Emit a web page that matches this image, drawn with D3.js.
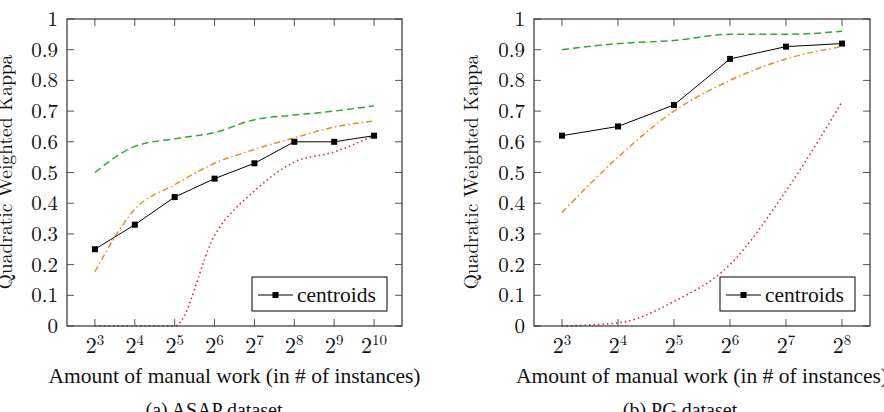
<!DOCTYPE html>
<html>
<head>
<meta charset="utf-8">
<script src="https://cdn.jsdelivr.net/npm/d3@7"></script>
<style>
  body { margin: 0; background: #fff; }
</style>
</head>
<body>
<div id="visualization"></div>
<script>
// exponents on the x axis (2^k instances)
const asapExp = [3, 4, 5, 6, 7, 8, 9, 10];
const pgExp = [3, 4, 5, 6, 7, 8];

// ASAP dataset
const asapCentroids = [0.25, 0.33, 0.42, 0.48, 0.53, 0.60, 0.60, 0.62];
const asapGreen = [0.50, 0.585, 0.61, 0.63, 0.672, 0.687, 0.70, 0.717];
const asapOrange = [0.177, 0.38, 0.46, 0.53, 0.575, 0.613, 0.648, 0.668];
const asapRed = [0, 0, 0, 0.295, 0.44, 0.534, 0.567, 0.62];

// PG dataset
const pgCentroids = [0.62, 0.65, 0.72, 0.87, 0.91, 0.92];
const pgGreen = [0.90, 0.92, 0.93, 0.95, 0.95, 0.96];
const pgOrange = [0.37, 0.55, 0.70, 0.80, 0.87, 0.91];
const pgRed = [0, 0.01, 0.08, 0.20, 0.44, 0.73];

const yTicks = [0, 0.1, 0.2, 0.3, 0.4, 0.5, 0.6, 0.7, 0.8, 0.9, 1];
const xLabel = "Amount of manual work (in # of instances)";
const yLabel = "Quadratic Weighted Kappa";
const captions = ["(a) ASAP dataset", "(b) PG dataset"];

const cm = "'Latin Modern Roman', 'Liberation Serif', serif";
const times = "'Liberation Serif', 'Tinos', serif";

const svg = d3.select("#visualization")
    .append("svg")
    .attr("width", 884)
    .attr("height", 412);

function drawPanel(opts) {
    const g = svg.append("g");
    const x = d3.scaleLinear().domain(opts.xDomain).range([opts.left, opts.right]);
    const y = d3.scaleLinear().domain([0, 1]).range([326, 19]);
    const tick = 7;

    // ticks, inside, on all four sides
    g.selectAll(".xt").data(opts.exps).enter().append("path")
        .attr("d", d => `M${x(d)},326v${-tick}M${x(d)},19v${tick}`)
        .attr("stroke", "#555").attr("stroke-width", 1);
    g.selectAll(".yt").data(yTicks).enter().append("path")
        .attr("d", d => `M${opts.left},${y(d)}h${tick}M${opts.right},${y(d)}h${-tick}`)
        .attr("stroke", "#555").attr("stroke-width", 1);

    const line = d3.line()
        .x((d, i) => x(opts.exps[i]))
        .y(d => y(d));
    const smooth = d3.line()
        .x((d, i) => x(opts.exps[i]))
        .y(d => y(d))
        .curve(d3.curveMonotoneX);

    g.append("path").datum(opts.green).attr("d", smooth)
        .attr("fill", "none").attr("stroke", "#27b02a").attr("stroke-width", 1.5)
        .attr("stroke-dasharray", "7,4");
    g.append("path").datum(opts.orange).attr("d", smooth)
        .attr("fill", "none").attr("stroke", "#ef8a1f").attr("stroke-width", 1.5)
        .attr("stroke-dasharray", "6,3,1.5,3");
    g.append("path").datum(opts.red).attr("d", smooth)
        .attr("fill", "none").attr("stroke", "#e0283a").attr("stroke-width", 1.6)
        .attr("stroke-dasharray", "1.5,3");
    g.append("path").datum(opts.centroids).attr("d", line)
        .attr("fill", "none").attr("stroke", "#000").attr("stroke-width", 1);
    g.selectAll(".mk").data(opts.centroids).enter().append("rect")
        .attr("x", (d, i) => x(opts.exps[i]) - 3)
        .attr("y", d => y(d) - 3)
        .attr("width", 6).attr("height", 6)
        .attr("fill", "#000");

    // frame
    g.append("rect")
        .attr("x", opts.left).attr("y", 19)
        .attr("width", opts.right - opts.left).attr("height", 307)
        .attr("fill", "none").attr("stroke", "#333").attr("stroke-width", 1.2);

    // tick labels
    g.selectAll(".yl").data(yTicks).enter().append("text")
        .attr("x", opts.left - 9).attr("y", d => y(d) + 7)
        .attr("text-anchor", "end").attr("font-size", 21).attr("fill", "#111")
        .attr("font-family", cm)
        .text(d => d3.format("~g")(d));
    const xl = g.selectAll(".xl").data(opts.exps).enter().append("text")
        .attr("x", d => x(d)).attr("y", 353)
        .attr("text-anchor", "middle").attr("font-size", 22).attr("fill", "#111")
        .attr("font-family", cm);
    xl.append("tspan").text("2");
    xl.append("tspan").attr("font-size", 15).attr("dy", -8).text(d => d);

    // axis titles
    g.append("text")
        .attr("x", (opts.left + opts.right) / 2).attr("y", 383)
        .attr("text-anchor", "middle").attr("font-size", 21.5).attr("fill", "#111")
        .attr("font-family", times)
        .text(xLabel);
    g.append("text")
        .attr("transform", `translate(${opts.yLabelX},172) rotate(-90)`)
        .attr("text-anchor", "middle").attr("font-size", 19.5).attr("fill", "#111")
        .attr("font-family", cm)
        .text(yLabel);
    g.append("text")
        .attr("x", opts.captionX).attr("y", 417)
        .attr("text-anchor", "middle").attr("font-size", 20).attr("fill", "#111")
        .attr("font-family", times)
        .text(opts.caption);

    // legend
    const lg = g.append("g").attr("transform", `translate(${opts.right - 150},277)`);
    lg.append("rect").attr("width", 135).attr("height", 34)
        .attr("fill", "#fff").attr("stroke", "#000").attr("stroke-width", 1);
    lg.append("line").attr("x1", 6).attr("x2", 41).attr("y1", 18).attr("y2", 18)
        .attr("stroke", "#000");
    lg.append("rect").attr("x", 20.5).attr("y", 15).attr("width", 6).attr("height", 6);
    lg.append("text").attr("x", 45).attr("y", 25).attr("font-size", 21.5).attr("fill", "#111")
        .attr("font-family", times)
        .text("centroids");
}

drawPanel({
    exps: asapExp, xDomain: [2.3, 10.7], left: 67, right: 402, yLabelX: 12,
    centroids: asapCentroids, green: asapGreen, orange: asapOrange, red: asapRed,
    caption: captions[0], captionX: 214
});
drawPanel({
    exps: pgExp, xDomain: [2.5, 8.5], left: 534, right: 870, yLabelX: 478,
    centroids: pgCentroids, green: pgGreen, orange: pgOrange, red: pgRed,
    caption: captions[1], captionX: 680
});
</script>
</body>
</html>
